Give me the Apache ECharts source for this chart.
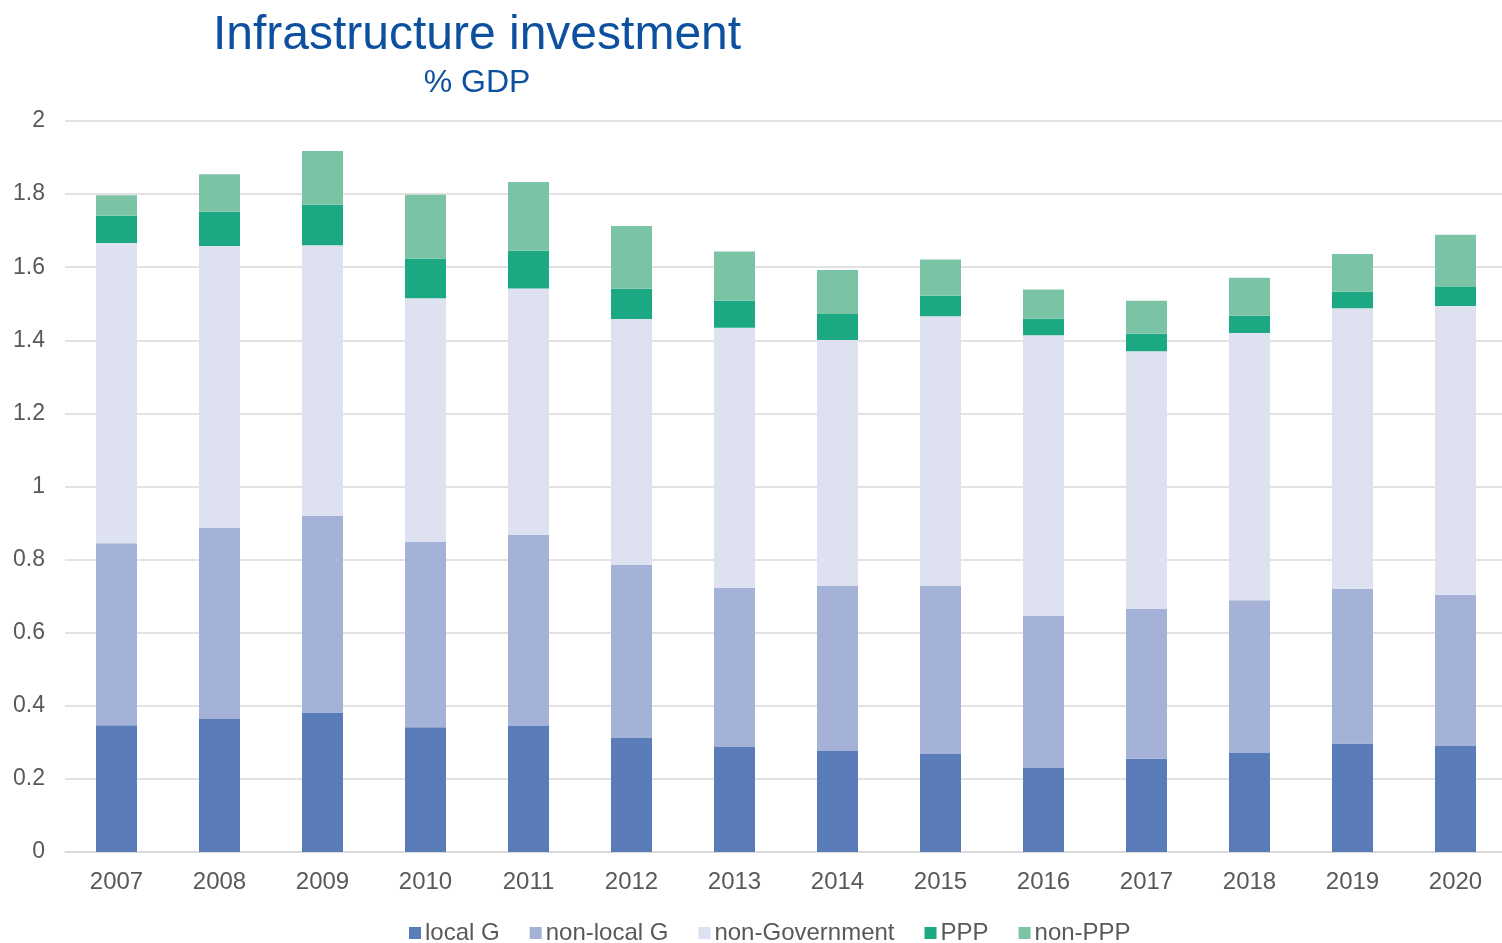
<!DOCTYPE html>
<html>
<head>
<meta charset="utf-8">
<title>Infrastructure investment</title>
<script src="https://cdn.jsdelivr.net/npm/echarts@6/dist/echarts.min.js"></script>
<style>
  html, body { margin: 0; padding: 0; background: #ffffff; }
  #chart { width: 1502px; height: 943px; }
</style>
</head>
<body>
<div id="chart"></div>
<script>
// Years on the category axis
const years = ['2007', '2008', '2009', '2010', '2011', '2012', '2013',
               '2014', '2015', '2016', '2017', '2018', '2019', '2020'];

// Infrastructure investment components, % of GDP (stacked bottom to top)
const localG        = [0.347, 0.364, 0.382, 0.341, 0.345, 0.312, 0.287, 0.276, 0.268, 0.230, 0.255, 0.271, 0.297, 0.290];
const nonLocalG     = [0.498, 0.523, 0.538, 0.507, 0.522, 0.473, 0.436, 0.452, 0.461, 0.416, 0.410, 0.418, 0.423, 0.414];
const nonGovernment = [0.821, 0.771, 0.740, 0.667, 0.675, 0.673, 0.711, 0.673, 0.737, 0.768, 0.705, 0.731, 0.768, 0.790];
const ppp           = [0.075, 0.094, 0.111, 0.109, 0.103, 0.083, 0.074, 0.071, 0.056, 0.045, 0.048, 0.047, 0.045, 0.052];
const nonPPP        = [0.056, 0.102, 0.147, 0.174, 0.188, 0.172, 0.135, 0.120, 0.099, 0.080, 0.090, 0.104, 0.103, 0.143];

// Y-axis tick values
const yTicks = [0, 0.2, 0.4, 0.6, 0.8, 1, 1.2, 1.4, 1.6, 1.8, 2];

const seriesDefs = [
  { name: 'local G',        data: localG,        color: '#5A7DB9' },
  { name: 'non-local G',    data: nonLocalG,     color: '#A4B2D7' },
  { name: 'non-Government', data: nonGovernment, color: '#DEE1EF' },
  { name: 'PPP',            data: ppp,           color: '#1CA882' },
  { name: 'non-PPP',        data: nonPPP,        color: '#7BC3A5' }
];

const FONT = '"Liberation Sans", Arial, sans-serif';
const chart = echarts.init(document.getElementById('chart'), null, { renderer: 'canvas' });

chart.setOption({
  animation: false,
  backgroundColor: '#ffffff',
  title: [
    {
      text: 'Infrastructure investment',
      left: 472,
      top: 7,
      textAlign: 'center',
      textStyle: { fontFamily: FONT, fontSize: 48, fontWeight: 'normal', color: '#0E50A0' }
    },
    {
      text: '% GDP',
      left: 472,
      top: 62,
      textAlign: 'center',
      textStyle: { fontFamily: FONT, fontSize: 32, fontWeight: 'normal', color: '#0E50A0' }
    }
  ],
  legend: {
    top: 916,
    left: 404,
    itemWidth: 12,
    itemHeight: 12,
    itemGap: 30,
    icon: 'rect',
    textStyle: { fontFamily: FONT, fontSize: 24, color: '#595959', padding: [0, 0, 0, -1] },
    data: seriesDefs.map(s => s.name)
  },
  grid: {
    left: 65,
    width: 1442,
    top: 121,
    bottom: 91,
    containLabel: false,
    outerBoundsMode: 'none'
  },
  xAxis: {
    type: 'category',
    data: years,
    axisLine: { show: true, lineStyle: { color: '#D9D9D9', width: 1.5 } },
    axisTick: { show: false },
    axisLabel: { fontFamily: FONT, fontSize: 24, color: '#595959', margin: 18 }
  },
  yAxis: {
    type: 'value',
    min: yTicks[0],
    max: yTicks[yTicks.length - 1],
    interval: 0.2,
    axisLine: { show: false },
    axisTick: { show: false },
    splitLine: { lineStyle: { color: '#D9D9D9', width: 1.5 } },
    axisLabel: {
      fontFamily: FONT,
      fontSize: 23,
      color: '#595959',
      margin: 20,
      formatter: v => String(parseFloat(v.toFixed(1)))
    }
  },
  series: seriesDefs.map(s => ({
    name: s.name,
    type: 'bar',
    stack: 'total',
    barWidth: 41,
    data: s.data,
    itemStyle: { color: s.color },
    emphasis: { disabled: true }
  }))
});
</script>
</body>
</html>
